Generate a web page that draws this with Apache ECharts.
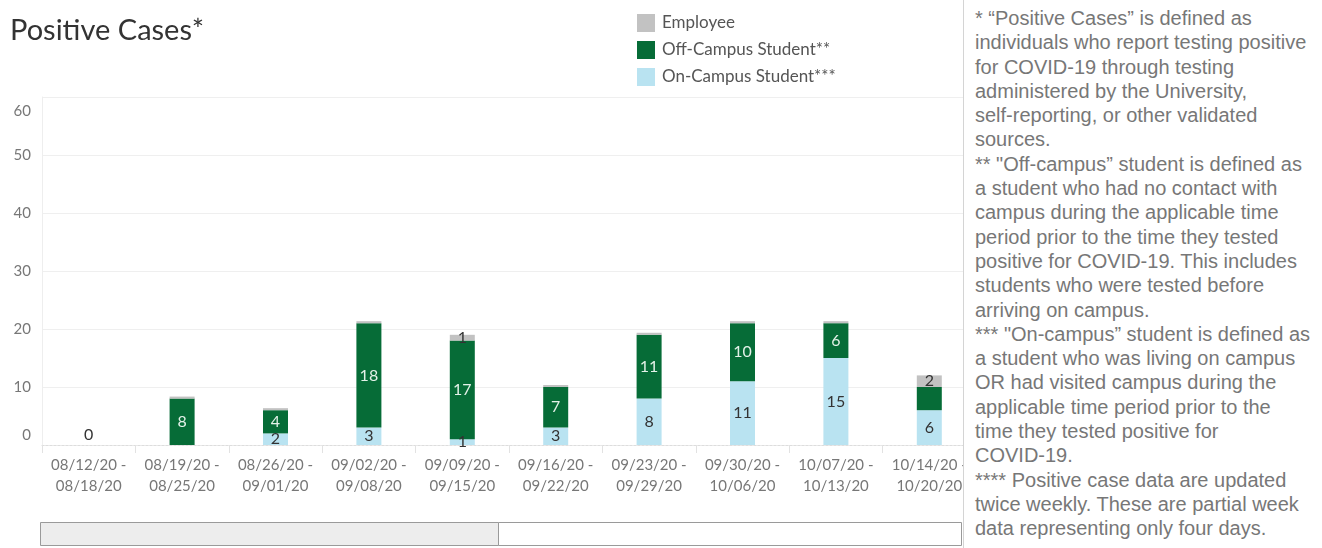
<!DOCTYPE html>
<html>
<head>
<meta charset="utf-8">
<script src="https://cdn.jsdelivr.net/npm/echarts@6/dist/echarts.min.js"></script>
<style>
  html, body { margin: 0; padding: 0; background: #fff; }
  #wrap { position: relative; width: 1322px; height: 548px; overflow: hidden; }
  #chart { position: absolute; left: 0; top: 0; width: 1322px; height: 548px; }
  #notes {
    position: absolute; left: 963px; top: 0; width: 359px; height: 548px;
    background: #fff; border-left: 1px solid #d4d4d4; box-sizing: border-box;
    padding: 6px 0 0 11px;
    font-family: "Liberation Sans", Arial, sans-serif; font-size: 20px; line-height: 24.3px;
    color: #777; white-space: nowrap;
  }
</style>
</head>
<body>
<div id="wrap">
  <div id="chart"></div>
  <div id="notes">
    * “Positive Cases” is defined as<br>
    individuals who report testing positive<br>
    for COVID-19 through testing<br>
    administered by the University,<br>
    self-reporting, or other validated<br>
    sources.<br>
    ** "Off-campus” student is defined as<br>
    a student who had no contact with<br>
    campus during the applicable time<br>
    period prior to the time they tested<br>
    positive for COVID-19. This includes<br>
    students who were tested before<br>
    arriving on campus.<br>
    *** "On-campus” student is defined as<br>
    a student who was living on campus<br>
    OR had visited campus during the<br>
    applicable time period prior to the<br>
    time they tested positive for<br>
    COVID-19.<br>
    **** Positive case data are updated<br>
    twice weekly. These are partial week<br>
    data representing only four days.
  </div>
</div>
<script>
// week ranges
const weeks = [
  '08/12/20 -\n08/18/20', '08/19/20 -\n08/25/20', '08/26/20 -\n09/01/20',
  '09/02/20 -\n09/08/20', '09/09/20 -\n09/15/20', '09/16/20 -\n09/22/20',
  '09/23/20 -\n09/29/20', '09/30/20 -\n10/06/20', '10/07/20 -\n10/13/20',
  '10/14/20 -\n10/20/20'
]

// cases per group (thin grey slivers read as fractions of one case)
const onCampus = [0, 0, 2, 3, 1, 3, 8, 11, 15, 6]
const offCampus = [0, 8, 4, 18, 17, 7, 11, 10, 6, 4]
const employee = [0, 0.35, 0.35, 0.35, 1, 0.35, 0.35, 0.35, 0.35, 2]
// which off-campus values carry a label in the source
const offLabelShown = [false, true, true, true, true, true, true, true, true, false]

const yTicks = [0, 10, 20, 30, 40, 50, 60]

const FONT = 'Lato, "Noto Sans", sans-serif'

const chart = echarts.init(document.getElementById('chart'))

const option = {
  animation: false,
  textStyle: { fontFamily: FONT },
  title: {
    text: 'Positive Cases*',
    left: 5,
    top: 11,
    textStyle: { fontFamily: FONT, fontSize: 29, fontWeight: 'normal', color: '#333' }
  },
  legend: {
    orient: 'vertical',
    left: 632,
    top: 9,
    itemWidth: 18,
    itemHeight: 18,
    itemGap: 9,
    icon: 'rect',
    data: ['Employee', 'Off-Campus Student**', 'On-Campus Student***'],
    textStyle: { fontFamily: FONT, fontSize: 17, color: '#555', padding: [0, 0, 0, 2] }
  },
  grid: { left: 42, right: 346, top: 97, bottom: 103 },
  xAxis: {
    type: 'category',
    data: weeks,
    axisLine: { lineStyle: { color: '#ddd', type: [2, 2] } },
    axisTick: { show: true, length: 8, lineStyle: { color: '#e2e2e2' } },
    axisLabel: { interval: 0, fontFamily: FONT, fontSize: 15, color: '#777', lineHeight: 21, margin: 10 }
  },
  yAxis: {
    type: 'value',
    min: yTicks[0],
    max: yTicks[yTicks.length - 1],
    interval: 10,
    axisLine: { show: true, lineStyle: { color: '#eee' } },
    splitLine: { lineStyle: { color: '#efefef' } },
    axisLabel: {
      fontFamily: FONT, fontSize: 15, color: '#777', margin: 11,
      formatter: v => v === 60 ? '{lo|60}' : v === 0 ? '{hi|0}' : String(v),
      rich: { lo: { padding: [28, 0, 0, 0] }, hi: { padding: [0, 0, 20, 0] } }
    }
  },
  series: [
    {
      name: 'On-Campus Student***',
      type: 'bar',
      stack: 'cases',
      barWidth: 25,
      itemStyle: { color: '#b9e3f1' },
      data: onCampus.map(v => ({
        value: v,
        label: { show: v >= 1, position: 'inside', color: '#333', fontSize: 16, fontFamily: FONT }
      }))
    },
    {
      name: 'Off-Campus Student**',
      type: 'bar',
      stack: 'cases',
      barWidth: 25,
      itemStyle: { color: '#066c37' },
      data: offCampus.map((v, i) => ({
        value: v,
        label: { show: offLabelShown[i], position: 'inside', color: '#e3f1e8', fontSize: 16, fontFamily: FONT }
      }))
    },
    {
      name: 'Employee',
      type: 'bar',
      stack: 'cases',
      barWidth: 25,
      itemStyle: { color: '#c2c2c2' },
      data: employee.map((v, i) => {
        const total = onCampus[i] + offCampus[i] + v
        if (total === 0) {
          return { value: v, label: { show: true, position: 'top', distance: 2, color: '#333', fontSize: 16, fontFamily: FONT, formatter: '0' } }
        }
        return { value: v, label: { show: v >= 1, position: 'inside', color: '#333', fontSize: 16, fontFamily: FONT } }
      })
    }
  ],
  graphic: [
    { type: 'rect', shape: { x: 40.5, y: 522.5, width: 458, height: 23 }, style: { fill: '#ededed', stroke: '#9a9a9a', lineWidth: 1 } },
    { type: 'rect', shape: { x: 498.5, y: 522.5, width: 463, height: 23 }, style: { fill: '#fff', stroke: '#9a9a9a', lineWidth: 1 } }
  ]
}

chart.setOption(option)
</script>
</body>
</html>
